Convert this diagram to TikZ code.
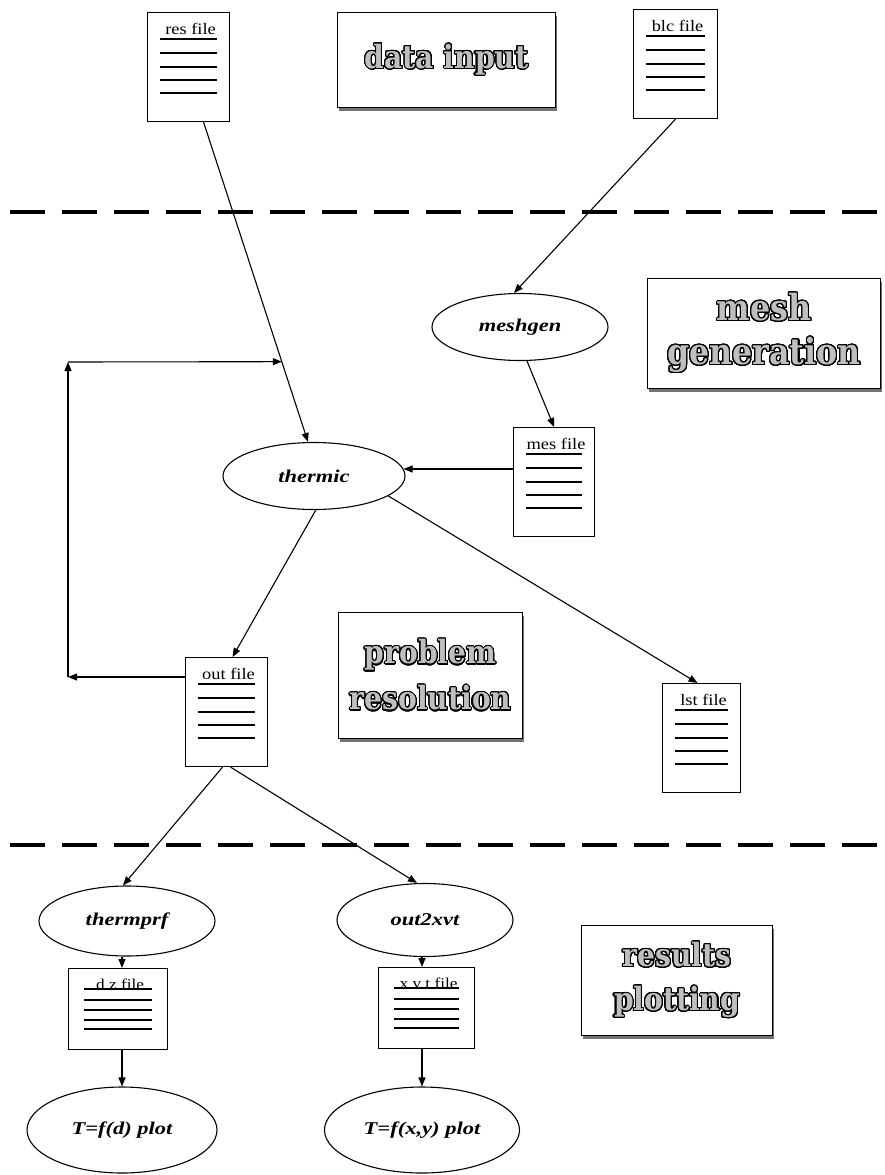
\documentclass[tikz,border=0pt]{standalone}
\usepackage{fontspec}
\setmainfont{Liberation Serif}
\newfontfamily\elfont[FakeStretch=1.25]{Liberation Serif}
\newfontfamily\dcfont[FakeStretch=1.15]{Liberation Serif}
\newfontfamily\bxfont[FakeStretch=0.88]{DejaVu Serif}
\usepackage{contour}
\contourlength{1.1pt}
\contournumber{32}
\usetikzlibrary{shapes.geometric,arrows.meta,calc,shadows}
\newcommand\outl[1]{\contour{black}{\textcolor{black!25}{#1}}}
\tikzset{
  docbox/.style={draw, line width=1.1pt, fill=white, inner sep=0pt, anchor=north west},
  doctitle/.style={font=\dcfont\fontsize{16}{16}\selectfont, inner sep=0pt, anchor=base},
  smalltitle/.style={font=\dcfont\fontsize{15}{15}\selectfont, inner sep=0pt, anchor=base},
  docline/.style={line width=1.1pt},
  proc/.style={ellipse, draw, line width=1.1pt, inner sep=0pt,
    font=\elfont\bfseries\itshape\fontsize{18}{18}\selectfont},
  lbl/.style={draw, line width=1.1pt, fill=white, inner sep=0pt, align=center, anchor=north west,
    drop shadow={shadow xshift=1pt, shadow yshift=-3pt, fill=black!55, opacity=1}},
  arr/.style={line width=1.1pt, -{Triangle[length=9pt,width=7pt]}},
  sep/.style={line width=4pt, dash pattern=on 35pt off 17pt}
}
\newcommand\bigdoc[5]{%
  \node[docbox, minimum width=#4pt, minimum height=109pt] (#1) at (#2,#3) {};
  \node[doctitle] at ($(#1.north)+(2,22)$) {#5};
  \foreach \dy in {27,41,55,68,81}{\draw[docline] ($(#1.north west)+(13,\dy)$) -- ($(#1.north east)+(-13,\dy)$);}
}
\newcommand\smalldoc[5]{%
  \node[docbox, minimum width=#4pt, minimum height=81pt] (#1) at (#2,#3) {};
  \node[smalltitle] at ($(#1.north)+(2,21)$) {#5};
  \foreach \dy in {21,32,42,52,61}{\draw[docline] ($(#1.north west)+(16,\dy)$) -- ($(#1.north east)+(-16,\dy)$);}
}
\begin{document}
\begin{tikzpicture}[x=1pt,y=-1pt]
\useasboundingbox (0,0) rectangle (884,1175);

% separators
\coordinate (s1a) at (10,212); \coordinate (s1b) at (884,212);
\coordinate (s2a) at (10,845); \coordinate (s2b) at (884,845);
\draw[sep] (s1a) -- (s1b);
\draw[sep] (s2a) -- (s2b);

% label boxes
\node[lbl, minimum width=218pt, minimum height=95pt,
  font=\bxfont\bfseries\fontsize{32}{38}\selectfont] (din) at (337,12)
  {\outl{data input}};
\node[lbl, minimum width=233pt, minimum height=110pt,
  font=\bxfont\bfseries\fontsize{36}{44}\selectfont] (mgen) at (647,278)
  {\outl{mesh}\\\outl{generation}};
\node[lbl, minimum width=184pt, minimum height=126pt,
  font=\bxfont\bfseries\fontsize{32}{46}\selectfont] (pres) at (338,612)
  {\outl{problem}\\\outl{resolution}};
\node[lbl, minimum width=191pt, minimum height=110pt,
  font=\bxfont\bfseries\fontsize{32}{44}\selectfont] (rplot) at (581,925)
  {\outl{results}\\\outl{plotting}};

% documents
\bigdoc{res}{147}{12}{82}{res file}
\bigdoc{blc}{633}{9}{84}{blc file}
\bigdoc{mes}{513}{427}{81}{mes file}
\bigdoc{out}{185}{657}{82}{out file}
\bigdoc{lst}{662}{683}{78}{lst file}
\smalldoc{dz}{68}{968}{99}{d z file}
\smalldoc{xyt}{378}{967}{96}{x v t file}

% processes
\node[proc, minimum width=176pt, minimum height=67pt] (mg) at (520,327) {meshgen};
\node[proc, minimum width=182pt, minimum height=67pt] (th) at (314,476) {thermic};
\node[proc, minimum width=176pt, minimum height=70pt] (tp) at (127,921) {thermprf};
\node[proc, minimum width=176pt, minimum height=73pt] (ox) at (425,920) {out2xvt};
\node[proc, minimum width=190pt, minimum height=86pt] (tfd) at (122,1130) {T=f(d) plot};
\node[proc, minimum width=195pt, minimum height=86pt] (tfxy) at (422,1130) {T=f(x,y) plot};

% connectors
\coordinate (rs) at ($(res.south)+(15,0)$);
\coordinate (tn) at ($(th.north)+(-6,0)$);
\draw[arr] (rs) -- (tn);
\coordinate (j) at ($(rs)!0.749!(tn)$);
\draw[arr] (blc.south) -- ($(mg.north)+(-6,0)$);
\draw[arr] ($(mg.south)+(7,0)$) -- (mes.north);
\draw[arr] ($(mes.north west)+(0,42)$) -- ($(th.east)+(-2,-7)$);
\draw[arr] (th.-87) -- ($(out.north)+(6,0)$);
\draw[arr] (th.-15) -- ($(lst.north)+(-4,0)$);
\draw[arr] ($(out.south)+(-4,0)$) -- ($(tp.north)+(-4,0)$);
\draw[arr] ($(out.south)+(4,0)$) -- ($(ox.north)+(-8,0)$);
\draw[arr] (tp.south -| tfd.north) -- (dz.north -| tfd.north);
\draw[arr] (dz.south -| tfd.north) -- (tfd.north);
\draw[arr] (ox.south -| tfxy.north) -- (xyt.north -| tfxy.north);
\draw[arr] (xyt.south -| tfxy.north) -- (tfxy.north);

% feedback loop
\coordinate (lc1) at (68,677);
\coordinate (lc2) at (68,362);
\draw[arr] ($(out.north west)+(0,20)$) -- (lc1);
\draw[arr] (lc1) -- (lc2);
\draw[arr] (lc2) -- (j);
\end{tikzpicture}
\end{document}
